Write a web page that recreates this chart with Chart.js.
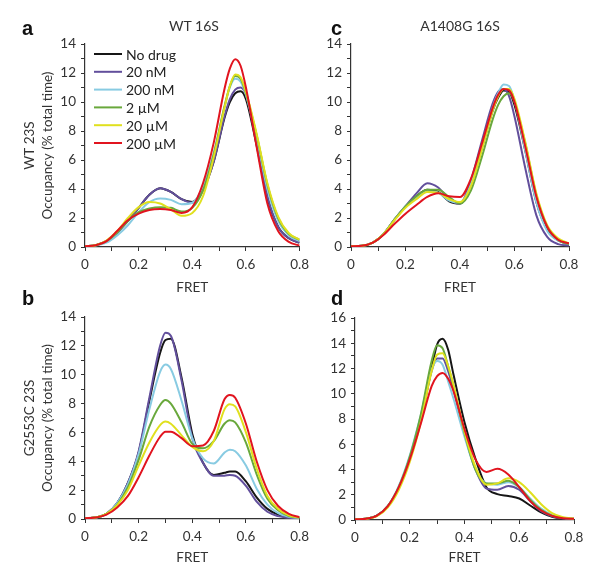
<!DOCTYPE html>
<html>
<head>
<meta charset="utf-8">
<script src="https://cdn.jsdelivr.net/npm/chart.js@4.4.1/dist/chart.umd.min.js"></script>
<style>
  body { margin: 0; background: #fff; }
  #fig { position: relative; width: 601px; height: 580px; overflow: hidden; color: #333; }
  .box { position: absolute; }
  .title { position: absolute; font: 14px Lato, sans-serif; line-height: 14px; white-space: nowrap; transform: translateX(-50%); }
  .letter { position: absolute; font: bold 20px "Liberation Sans", Arial, sans-serif; line-height: 20px; color: #111; }
</style>
</head>
<body>
<div id="fig">
  <div class="box" style="left:0;top:0"><canvas id="chartA" width="315" height="300"></canvas></div>
  <div class="box" style="left:300px;top:0"><canvas id="chartC" width="290" height="300"></canvas></div>
  <div class="box" style="left:0;top:290px"><canvas id="chartB" width="315" height="290"></canvas></div>
  <div class="box" style="left:300px;top:290px"><canvas id="chartD" width="290" height="290"></canvas></div>

  <div class="letter" style="left:22px;top:18px">a</div>
  <div class="letter" style="left:331px;top:18px">c</div>
  <div class="letter" style="left:22px;top:288px">b</div>
  <div class="letter" style="left:331px;top:288px">d</div>
  <div class="title" style="left:194px;top:18.6px">WT 16S</div>
  <div class="title" style="left:460px;top:18.6px">A1408G 16S</div>
</div>

<script>
// drug concentrations (legend)
const concentrations = ['No drug', '20 nM', '200 nM', '2 \u00b5M', '20 \u00b5M', '200 \u00b5M'];
const colors = ['#161616', '#624f9c', '#88cbe2', '#69a83c', '#e0e01e', '#e1141f'];

// panel a: WT 16S / WT 23S
const fretA = [0, 0.04, 0.08, 0.12, 0.16, 0.2, 0.24, 0.28, 0.32, 0.36, 0.4, 0.44, 0.48, 0.52, 0.54, 0.56, 0.58, 0.6, 0.64, 0.68, 0.72, 0.76, 0.8];
const aNoDrug = [0.05, 0.12, 0.4, 1.0, 1.8, 2.7, 3.6, 4.05, 3.8, 3.3, 3.1, 4.0, 5.9, 8.9, 10.0, 10.6, 10.75, 10.2, 7.0, 3.4, 1.4, 0.6, 0.3];
const a20nM = [0.05, 0.12, 0.4, 1.0, 1.8, 2.7, 3.6, 4.05, 3.8, 3.3, 3.05, 3.9, 5.9, 9.0, 10.2, 10.85, 11.0, 10.5, 7.2, 3.5, 1.4, 0.6, 0.3];
const a200nM = [0.05, 0.1, 0.3, 0.8, 1.5, 2.4, 3.1, 3.35, 3.25, 2.95, 3.05, 4.2, 6.5, 9.6, 11.0, 11.6, 11.4, 10.5, 7.5, 4.0, 1.8, 0.8, 0.4];
const a2uM = [0.05, 0.12, 0.4, 1.0, 1.8, 2.4, 2.65, 2.75, 2.7, 2.45, 2.7, 3.9, 6.4, 9.7, 11.1, 11.8, 11.6, 10.6, 7.7, 4.3, 2.0, 0.9, 0.5];
const a20uM = [0.05, 0.12, 0.45, 1.1, 2.0, 2.75, 3.1, 3.0, 2.6, 2.15, 2.35, 3.5, 6.2, 9.6, 11.1, 11.9, 11.7, 10.7, 7.8, 4.4, 2.1, 0.95, 0.5];
const a200uM = [0.05, 0.12, 0.4, 1.1, 1.85, 2.3, 2.55, 2.62, 2.55, 2.35, 2.75, 4.4, 7.2, 10.9, 12.3, 12.95, 12.5, 11.0, 6.9, 3.0, 1.1, 0.35, 0.1];

// panel c: A1408G 16S / WT 23S
const fretC = [0, 0.04, 0.08, 0.12, 0.16, 0.2, 0.24, 0.28, 0.32, 0.36, 0.4, 0.44, 0.48, 0.52, 0.54, 0.56, 0.58, 0.6, 0.64, 0.68, 0.72, 0.76, 0.8];
const cNoDrug = [0.05, 0.08, 0.3, 0.9, 1.9, 2.8, 3.5, 3.95, 3.8, 3.15, 3.0, 4.3, 6.8, 9.4, 10.3, 10.8, 10.7, 9.8, 6.6, 3.1, 1.2, 0.45, 0.2];
const c20nM = [0.05, 0.08, 0.3, 0.9, 1.9, 2.8, 3.7, 4.4, 4.1, 3.3, 3.0, 4.6, 7.3, 9.9, 10.7, 10.9, 10.4, 9.0, 5.4, 2.2, 0.7, 0.2, 0.1];
const c200nM = [0.05, 0.08, 0.3, 0.9, 1.9, 2.8, 3.4, 3.85, 3.75, 3.2, 3.05, 4.3, 6.9, 9.6, 10.6, 11.2, 11.1, 10.1, 6.6, 3.1, 1.1, 0.45, 0.2];
const c2uM = [0.05, 0.08, 0.3, 0.9, 1.9, 2.8, 3.5, 3.95, 3.95, 3.45, 3.0, 3.9, 6.2, 8.8, 9.8, 10.4, 10.6, 10.0, 7.1, 3.6, 1.4, 0.5, 0.2];
const c20uM = [0.05, 0.08, 0.3, 0.9, 1.85, 2.7, 3.3, 3.8, 3.75, 3.3, 3.1, 4.2, 6.7, 9.4, 10.4, 10.9, 10.9, 10.2, 7.2, 3.7, 1.5, 0.6, 0.25];
const c200uM = [0.05, 0.08, 0.3, 0.85, 1.6, 2.3, 2.9, 3.45, 3.7, 3.5, 3.45, 4.7, 7.1, 9.6, 10.5, 10.9, 10.8, 10.0, 6.9, 3.5, 1.4, 0.5, 0.25];

// panel b: WT 16S / G2553C 23S
const fretB = [0, 0.04, 0.08, 0.12, 0.16, 0.2, 0.24, 0.28, 0.3, 0.32, 0.36, 0.4, 0.44, 0.48, 0.52, 0.54, 0.56, 0.6, 0.64, 0.68, 0.72, 0.76, 0.8];
const bNoDrug = [0.05, 0.1, 0.35, 1.1, 2.5, 4.6, 8.2, 11.5, 12.4, 12.5, 9.8, 5.9, 3.9, 3.05, 3.2, 3.3, 3.3, 2.6, 1.5, 0.7, 0.3, 0.1, 0.05];
const b20nM = [0.05, 0.1, 0.35, 1.1, 2.5, 4.7, 8.4, 12.0, 12.9, 12.7, 9.6, 5.6, 3.9, 3.0, 3.0, 3.05, 3.0, 2.3, 1.2, 0.5, 0.2, 0.08, 0.03];
const b200nM = [0.05, 0.1, 0.35, 1.1, 2.4, 4.5, 7.6, 10.2, 10.7, 10.4, 8.2, 5.6, 4.2, 3.85, 4.6, 4.8, 4.7, 3.7, 2.1, 1.0, 0.4, 0.15, 0.07];
const b2uM = [0.05, 0.1, 0.35, 1.0, 2.2, 4.1, 6.4, 7.9, 8.25, 8.0, 6.7, 5.2, 4.9, 5.4, 6.6, 6.85, 6.7, 5.3, 3.1, 1.4, 0.6, 0.2, 0.1];
const b20uM = [0.05, 0.1, 0.35, 0.95, 2.0, 3.7, 5.3, 6.5, 6.75, 6.6, 5.8, 5.0, 4.7, 5.4, 7.6, 7.95, 7.8, 6.0, 3.5, 1.6, 0.7, 0.25, 0.1];
const b200uM = [0.05, 0.1, 0.3, 0.8, 1.6, 2.9, 4.4, 5.7, 6.05, 6.05, 5.6, 5.05, 5.1, 6.1, 8.3, 8.6, 8.4, 6.6, 4.0, 2.0, 0.9, 0.35, 0.12];

// panel d: A1408G 16S / G2553C 23S
const fretD = [0, 0.04, 0.08, 0.12, 0.16, 0.2, 0.24, 0.28, 0.3, 0.32, 0.34, 0.36, 0.4, 0.44, 0.48, 0.52, 0.56, 0.6, 0.64, 0.68, 0.72, 0.76, 0.8];
const dNoDrug = [0.05, 0.1, 0.35, 1.1, 2.6, 4.9, 7.9, 12.0, 13.9, 14.35, 13.5, 11.5, 7.75, 4.85, 2.6, 2.05, 1.9, 1.7, 1.15, 0.6, 0.25, 0.1, 0.05];
const d20nM = [0.05, 0.1, 0.35, 1.1, 2.6, 4.9, 8.0, 11.8, 12.8, 12.8, 11.8, 10.3, 6.8, 4.0, 2.5, 2.4, 2.7, 2.4, 1.5, 0.7, 0.3, 0.12, 0.07];
const d200nM = [0.05, 0.1, 0.35, 1.1, 2.7, 5.1, 8.3, 11.9, 12.6, 12.3, 11.0, 9.6, 6.6, 4.0, 2.9, 2.8, 3.0, 2.6, 1.7, 0.9, 0.4, 0.18, 0.1];
const d2uM = [0.05, 0.1, 0.35, 1.1, 2.6, 5.0, 8.3, 12.6, 13.85, 13.6, 12.2, 10.6, 6.9, 4.0, 2.9, 2.9, 3.1, 2.6, 1.6, 0.8, 0.35, 0.15, 0.1];
const d20uM = [0.05, 0.1, 0.3, 1.0, 2.4, 4.6, 7.7, 11.8, 13.1, 13.2, 12.2, 10.7, 7.0, 4.2, 2.8, 2.9, 3.3, 3.0, 2.2, 1.25, 0.55, 0.22, 0.12];
const d200uM = [0.05, 0.1, 0.35, 1.1, 2.6, 4.8, 7.6, 10.6, 11.4, 11.65, 11.2, 10.2, 7.2, 4.8, 3.8, 4.05, 3.6, 2.6, 1.5, 0.75, 0.33, 0.14, 0.1];

const FONT = 'Lato, sans-serif';
const AXIS = '#333';

// legend drawn inside the plot area of panel a
const insideLegend = {
  id: 'insideLegend',
  afterDraw(chart, args, opts) {
    if (!opts.show) return;
    const ctx = chart.ctx;
    const area = chart.chartArea;
    ctx.save();
    ctx.font = '14px ' + FONT;
    ctx.textBaseline = 'middle';
    chart.data.datasets.forEach((ds, i) => {
      const y = area.top + 10 + i * 17.8;
      ctx.strokeStyle = ds.borderColor;
      ctx.lineWidth = 2;
      ctx.beginPath();
      ctx.moveTo(area.left + 9, y);
      ctx.lineTo(area.left + 37, y);
      ctx.stroke();
      ctx.fillStyle = '#222';
      ctx.fillText(ds.label, area.left + 41, y + 1);
    });
    ctx.restore();
  }
};

function makePanel(id, fret, series, cfg) {
  const datasets = series.map((vals, i) => ({
    label: concentrations[i],
    data: vals.map((v, j) => ({ x: fret[j], y: v })),
    borderColor: colors[i],
    borderWidth: 2,
    pointRadius: 0,
    cubicInterpolationMode: 'monotone',
    order: series.length - i
  }));

  const yTitle = cfg.yTitle
    ? { display: true, text: cfg.yTitle, color: AXIS, font: { family: FONT, size: 13.5, lineHeight: 1.3 }, padding: { top: 21, bottom: 0 } }
    : { display: false };

  new Chart(document.getElementById(id), {
    type: 'line',
    data: { datasets },
    plugins: [insideLegend],
    options: {
      responsive: false,
      animation: false,
      layout: { padding: cfg.padding },
      plugins: {
        legend: { display: false },
        tooltip: { enabled: false },
        insideLegend: { show: !!cfg.legend }
      },
      scales: {
        x: {
          type: 'linear',
          min: 0,
          max: 0.8,
          afterFit: s => { s.height = cfg.xHeight; },
          border: { color: AXIS, width: 1.2 },
          grid: { drawOnChartArea: false, tickLength: 4, color: AXIS, lineWidth: 1 },
          ticks: {
            stepSize: 0.1,
            autoSkip: false,
            maxRotation: 0,
            padding: 6,
            color: AXIS,
            font: { family: FONT, size: 13.5 },
            callback: v => {
              const k = Math.round(v * 10);
              if (k % 2 !== 0) return '';
              return k === 0 ? '0' : String(k / 10);
            }
          },
          title: { display: true, text: 'FRET', color: AXIS, font: { family: FONT, size: 13.5 }, padding: { top: 0, bottom: cfg.xTitlePad } }
        },
        y: {
          min: 0,
          max: cfg.yMax,
          afterFit: s => { s.width = cfg.yWidth; },
          border: { color: AXIS, width: 1.2 },
          grid: { drawOnChartArea: false, tickLength: 4, color: AXIS, lineWidth: 1 },
          ticks: {
            stepSize: 1,
            autoSkip: false,
            padding: 5,
            color: AXIS,
            font: { family: FONT, size: 13.5 },
            callback: v => (v % 2 === 0 ? v : '')
          },
          title: yTitle
        }
      }
    }
  });
}

makePanel('chartA', fretA, [aNoDrug, a20nM, a200nM, a2uM, a20uM, a200uM], {
  padding: { left: 0, top: 44, right: 12, bottom: 0 },
  yWidth: 85, xHeight: 53, xTitlePad: 4, yMax: 14,
  yTitle: ['WT 23S', 'Occupancy (% total time)'], legend: true
});
makePanel('chartC', fretC, [cNoDrug, c20nM, c200nM, c2uM, c20uM, c200uM], {
  padding: { left: 0, top: 44, right: 21, bottom: 0 },
  yWidth: 51, xHeight: 53, xTitlePad: 4, yMax: 14
});
makePanel('chartB', fretB, [bNoDrug, b20nM, b200nM, b2uM, b20uM, b200uM], {
  padding: { left: 0, top: 27, right: 12, bottom: 0 },
  yWidth: 85, xHeight: 61, xTitlePad: 14, yMax: 14,
  yTitle: ['G2553C 23S', 'Occupancy (% total time)']
});
makePanel('chartD', fretD, [dNoDrug, d20nM, d200nM, d2uM, d20uM, d200uM], {
  padding: { left: 0, top: 28, right: 16, bottom: 0 },
  yWidth: 55, xHeight: 60, xTitlePad: 14, yMax: 16
});
</script>
</body>
</html>
